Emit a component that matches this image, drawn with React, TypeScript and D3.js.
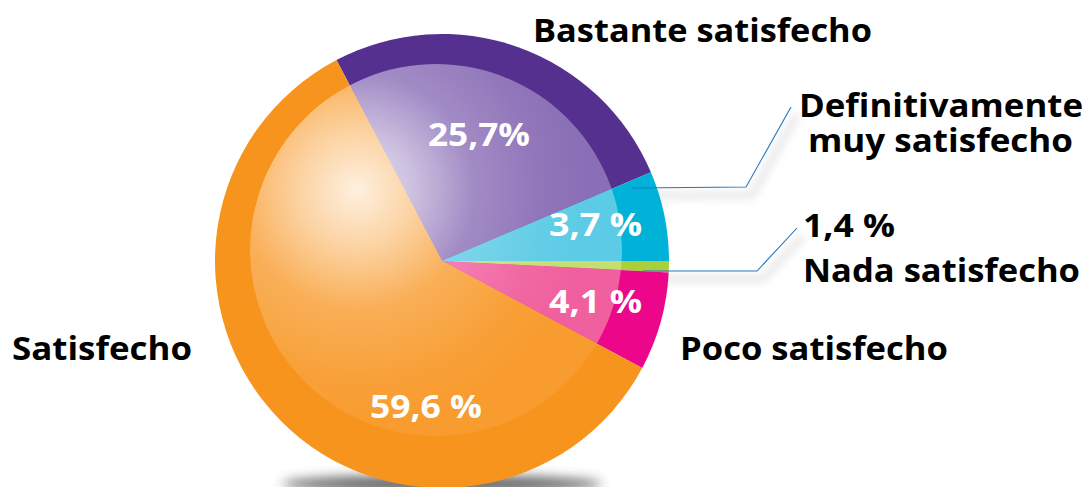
import React, { useEffect, useRef } from "react";
import * as d3 from "d3";

// ---- data ----
const categories = ["Bastante satisfecho", "Definitivamente muy satisfecho", "Nada satisfecho", "Poco satisfecho", "Satisfecho"];
// arc shares as drawn in the picture (degrees converted to %)
const shares = [26.3, 6.4, 0.8, 7.0, 59.5];
// printed percentage labels
const valueLabels = ["25,7%", "3,7 %", "1,4 %", "4,1 %", "59,6 %"];

// ---- styles ----
const outerColors = ["#55308f", "#00b2d8", "#a9cf3a", "#ec068a", "#f7941d"];
const innerColors = ["#8a6eb6", "#5ccbe5", "#c4de70", "#f0609e", "#f89c2f"];

const W = 1086;
const H = 487;
const CX = 442;
const CY = 261;
const R = 227;
const START_DEG = -27.7;
const INNER = { cx: 436, cy: 250, r: 186 };
const GLOW = { cx: 357, cy: 190, r: 235 };
const FONT = "'Open Sans', 'DejaVu Sans', sans-serif";

// label layout (positions separate from data)
const inLabelLayout = [
  { x: 428, y: 146, anchor: "start", w: 102 },
  { x: 642, y: 236, anchor: "end", w: 93 },
  null,
  { x: 642, y: 313, anchor: "end", w: 93 },
  { x: 370, y: 418, anchor: "start", w: 112 },
];
// each outside label: one text block, possibly with several lines
const outLabels = [
  [{ text: "Bastante satisfecho", x: 533, y: 42, w: 339 }],
  [
    { text: "Definitivamente", x: 799, y: 117, w: 284 },
    { text: "muy satisfecho", x: 808, y: 152, w: 265 },
  ],
  [{ text: "1,4 %", x: 803, y: 237, w: 92 }],
  [{ text: "Nada satisfecho", x: 803, y: 282, w: 277 }],
  [{ text: "Satisfecho", x: 12, y: 360, w: 180 }],
  [{ text: "Poco satisfecho", x: 680, y: 360, w: 268 }],
];
const leaders = [
  [[632, 188], [746, 187], [791, 107]],
  [[643, 271], [757, 271], [797, 228]],
];

export default function App() {
  const ref = useRef<SVGSVGElement | null>(null);

  useEffect(() => {
    const svg = d3.select(ref.current);
    svg.selectAll("*").remove();
    const defs = svg.append("defs");

    const blur = defs.append("filter").attr("id", "blur").attr("x", "-50%").attr("y", "-50%").attr("width", "200%").attr("height", "200%");
    blur.append("feGaussianBlur").attr("stdDeviation", 6);

    const soft = defs.append("filter").attr("id", "soft").attr("x", "-20%").attr("y", "-50%").attr("width", "140%").attr("height", "200%");
    soft.append("feGaussianBlur").attr("stdDeviation", 4);

    defs.append("clipPath").attr("id", "innerClip")
      .append("circle").attr("cx", INNER.cx).attr("cy", INNER.cy).attr("r", INNER.r);

    const glow = defs.append("radialGradient").attr("id", "glow")
      .attr("gradientUnits", "userSpaceOnUse")
      .attr("cx", GLOW.cx).attr("cy", GLOW.cy).attr("r", GLOW.r);
    [[0, 0.85], [0.25, 0.55], [0.5, 0.2], [0.8, 0.05], [1, 0]].forEach(([o, a]) => {
      glow.append("stop").attr("offset", o).attr("stop-color", "#fff").attr("stop-opacity", a);
    });

    // shadow under pie
    svg.append("ellipse").attr("cx", CX).attr("cy", 484).attr("rx", 160).attr("ry", 9)
      .attr("fill", "#444").attr("opacity", 0.8).attr("filter", "url(#blur)");

    // soft shadows of leader lines
    const shadowG = svg.append("g").attr("opacity", 0.18).attr("filter", "url(#soft)");
    leaders.forEach((pts) => {
      shadowG.append("path").attr("d", d3.line()(pts.map(([x, y]) => [x + 6, y + 8]) as any))
        .attr("fill", "none").attr("stroke", "#666").attr("stroke-width", 6);
    });

    const pie = d3.pie<number>().sort(null).value((d) => d)
      .startAngle((START_DEG * Math.PI) / 180)
      .endAngle((START_DEG * Math.PI) / 180 + 2 * Math.PI);
    const arcs = pie(shares);
    const arc = d3.arc<d3.PieArcDatum<number>>().innerRadius(0).outerRadius(R);

    const g = svg.append("g").attr("transform", `translate(${CX},${CY})`);
    g.selectAll("path.outer").data(arcs).join("path").attr("class", "outer")
      .attr("d", arc as any).attr("fill", (_, i) => outerColors[i]);

    const gi = svg.append("g").attr("clip-path", "url(#innerClip)");
    gi.append("g").attr("transform", `translate(${CX},${CY})`)
      .selectAll("path").data(arcs).join("path")
      .attr("d", arc as any).attr("fill", (_, i) => innerColors[i]);
    gi.append("circle").attr("cx", INNER.cx).attr("cy", INNER.cy).attr("r", INNER.r).attr("fill", "url(#glow)");

    // leader lines
    leaders.forEach((pts) => {
      svg.append("path").attr("d", d3.line()(pts as any))
        .attr("fill", "none").attr("stroke", "#2277c4").attr("stroke-width", 1.1);
    });

    // in-pie value labels
    arcs.forEach((a, i) => {
      const L = inLabelLayout[i];
      if (!L) return;
      svg.append("text").attr("x", L.x).attr("y", L.y)
        .attr("text-anchor", L.anchor)
        .attr("font-family", FONT).attr("font-weight", 700).attr("font-size", 33)
        .attr("fill", "#fff")
        .attr("textLength", L.w).attr("lengthAdjust", "spacingAndGlyphs")
        .text(valueLabels[i]);
    });

    // outside labels
    outLabels.forEach((lines) => {
      const t = svg.append("text")
        .attr("font-family", FONT).attr("font-weight", 700).attr("font-size", 32)
        .attr("fill", "#000");
      if (lines.length === 1) {
        const L = lines[0];
        t.attr("x", L.x).attr("y", L.y)
          .attr("textLength", L.w).attr("lengthAdjust", "spacingAndGlyphs")
          .text(L.text);
      } else {
        lines.forEach((L) => {
          t.append("tspan").attr("x", L.x).attr("y", L.y)
            .attr("textLength", L.w).attr("lengthAdjust", "spacingAndGlyphs")
            .text(L.text);
        });
      }
    });
  }, []);

  return (
    <svg ref={ref} width={W} height={H}
      style={{ position: "absolute", left: 0, top: 0, display: "block", background: "#fff" }} />
  );
}
